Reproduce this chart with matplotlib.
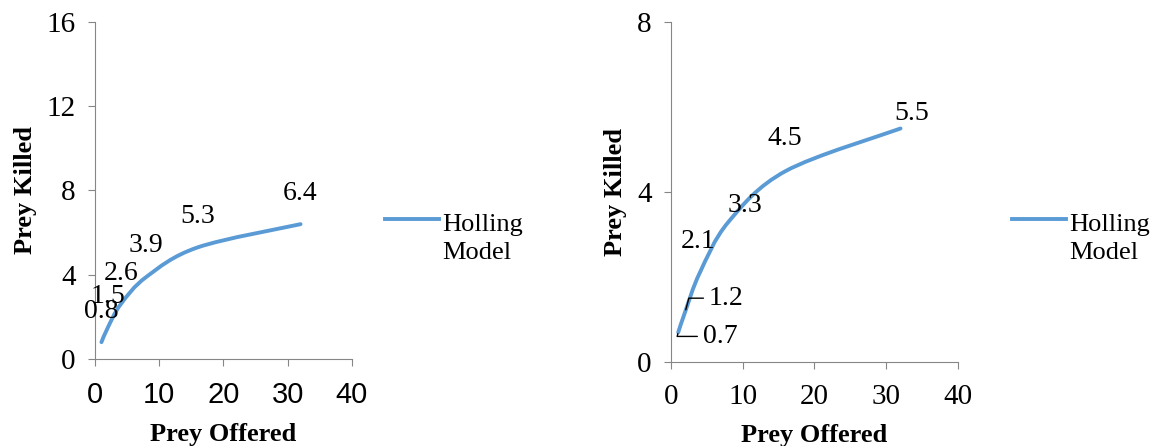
import matplotlib.pyplot as plt
from matplotlib.path import Path
from matplotlib.patches import PathPatch
from matplotlib.lines import Line2D
from matplotlib.legend_handler import HandlerLine2D

prey_offered = [1, 2, 4, 8, 16, 32]
killed_left = [0.8, 1.5, 2.6, 3.9, 5.3, 6.4]
killed_right = [0.7, 1.2, 2.1, 3.3, 4.5, 5.5]
series_name = "Holling\nModel"

line_color = "#5B9BD5"
axis_color = "#868686"
serif = "Liberation Serif"

plt.rcParams["font.family"] = serif


def smooth_path(xs, ys):
    # excel-like smoothed line: cubic bezier through each point
    pts = list(zip(xs, ys))
    verts = [pts[0]]
    codes = [Path.MOVETO]
    n = len(pts)
    for i in range(n - 1):
        p0 = pts[max(i - 1, 0)]
        p1 = pts[i]
        p2 = pts[i + 1]
        p3 = pts[min(i + 2, n - 1)]
        c1 = (p1[0] + (p2[0] - p0[0]) / 6, p1[1] + (p2[1] - p0[1]) / 6)
        c2 = (p2[0] - (p3[0] - p1[0]) / 6, p2[1] - (p3[1] - p1[1]) / 6)
        verts += [c1, c2, p2]
        codes += [Path.CURVE4] * 3
    return Path(verts, codes)


class TopLineHandler(HandlerLine2D):
    # put the legend line level with the first line of the label
    def create_artists(self, legend, orig_handle, xdescent, ydescent,
                       width, height, fontsize, trans):
        arts = super().create_artists(legend, orig_handle, xdescent, ydescent,
                                      width, height, fontsize, trans)
        for a in arts:
            a.set_ydata([y + 0.72 * fontsize for y in a.get_ydata()])
        return arts


def style_axes(ax, ymax, ystep, xtick_font):
    ax.set_xlim(0, 40)
    ax.set_ylim(0, ymax)
    ax.set_xticks(range(0, 41, 10))
    ax.set_yticks(range(0, ymax + 1, ystep))
    for side in ["top", "right"]:
        ax.spines[side].set_visible(False)
    for side in ["left", "bottom"]:
        ax.spines[side].set_color(axis_color)
    ax.tick_params(direction="out", length=5, color=axis_color, labelsize=21)
    ax.tick_params(axis="x", pad=11)
    ax.tick_params(axis="y", pad=9)
    for lab in ax.get_xticklabels():
        lab.set_family(xtick_font)
    ax.set_xlabel("Prey Offered", fontsize=19, fontweight="bold", labelpad=10)
    ax.set_ylabel("Prey Killed", fontsize=19, fontweight="bold", labelpad=7)


fig = plt.figure(figsize=(11.52, 4.46), dpi=100)
ax1 = fig.add_axes([0.0825, 0.195, 0.223, 0.756])
ax2 = fig.add_axes([0.5825, 0.188, 0.249, 0.762])

# left chart
ax1.add_patch(PathPatch(smooth_path(prey_offered, killed_left), fill=False,
                        edgecolor=line_color, lw=2.8, capstyle="round"))
style_axes(ax1, 16, 4, "Liberation Sans")
for x, y in zip(prey_offered, killed_left):
    ax1.annotate(f"{y}", (x, y), textcoords="offset pixels", xytext=(0, 31),
                 ha="center", va="center", fontsize=20)

# right chart
ax2.add_patch(PathPatch(smooth_path(prey_offered, killed_right), fill=False,
                        edgecolor=line_color, lw=2.8, capstyle="round"))
style_axes(ax2, 8, 4, serif)
offsets = [(42, -4), (41, 13), (-2, 31), (17, 16), (-1, 32), (11, 15)]
for (x, y), off in zip(zip(prey_offered, killed_right), offsets):
    arrow = None
    if off[0] > 30:
        arrow = dict(arrowstyle="-", color="black", lw=1, shrinkA=2, shrinkB=1,
                     connectionstyle="angle,angleA=0,angleB=75,rad=0")
    ax2.annotate(f"{y}", (x, y), textcoords="offset pixels", xytext=off,
                 ha="center", va="center", fontsize=20, arrowprops=arrow)

# legends
handle = Line2D([], [], color=line_color, lw=2.8)
for xpos in [385 / 1152, 1012 / 1152]:
    leg = fig.legend([handle], [series_name], loc="center left",
                     bbox_to_anchor=(xpos, 1 - 239 / 446), frameon=False,
                     fontsize=19, handlelength=2.05, handletextpad=0.12,
                     borderaxespad=0, borderpad=0,
                     handler_map={Line2D: TopLineHandler()})
    for t in leg.get_texts():
        t.set_linespacing(1.4)

fig.savefig("out.png", dpi=100)
